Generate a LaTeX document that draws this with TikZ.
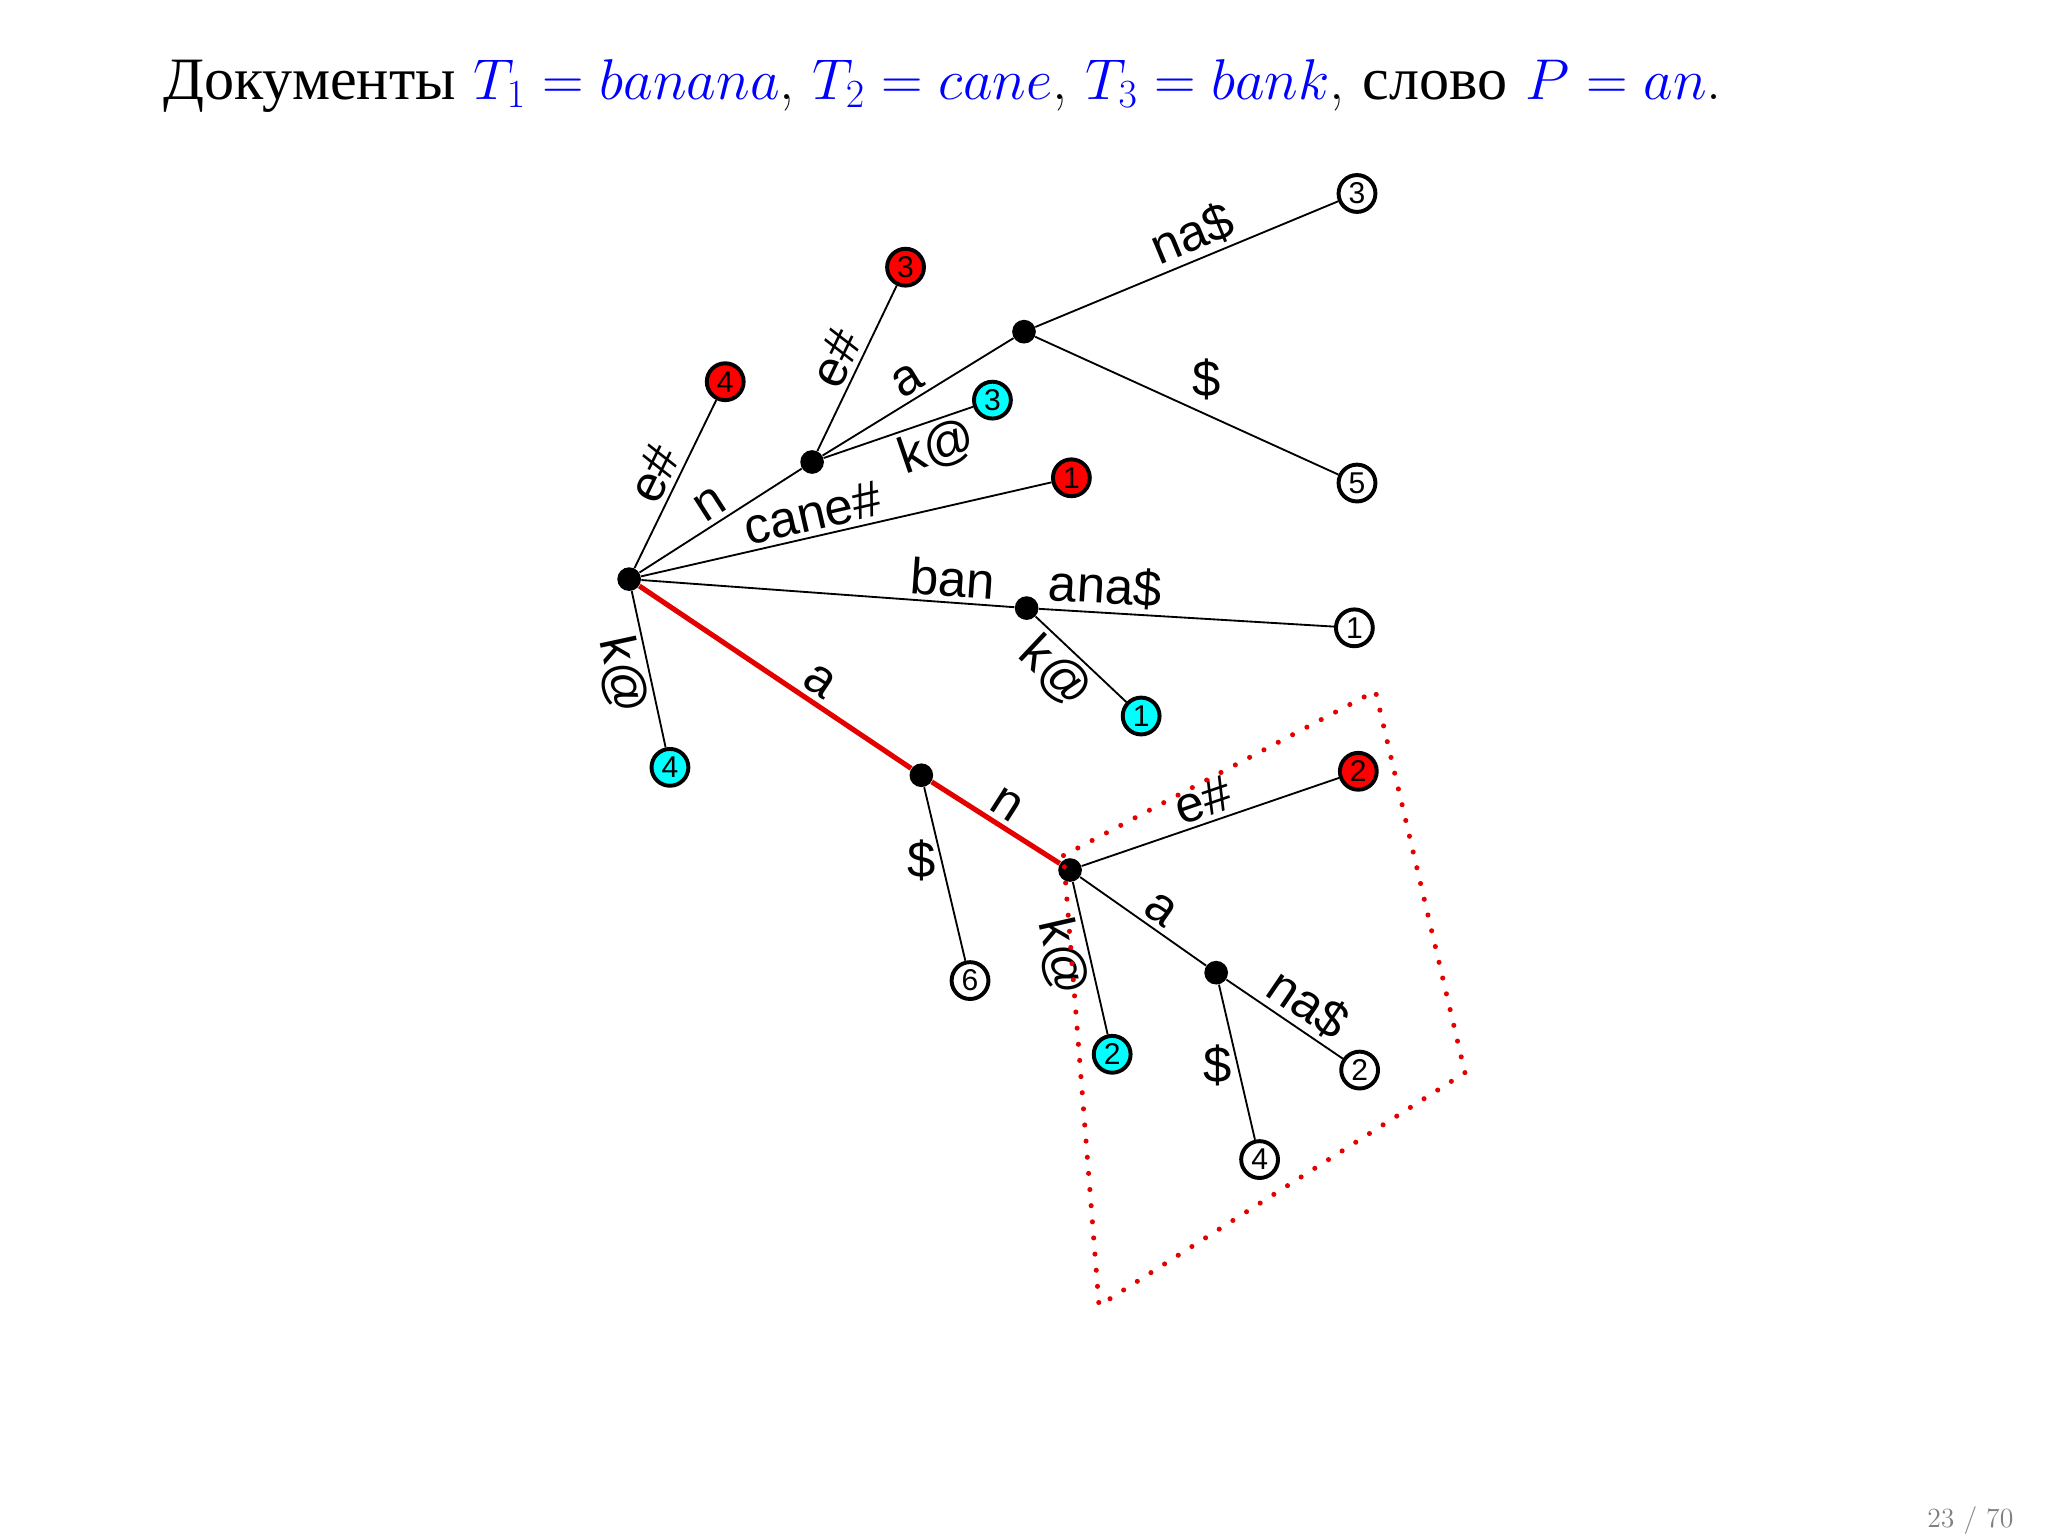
\documentclass[tikz,border=0pt]{standalone}
\usepackage{fontspec}
\setsansfont{Liberation Sans}
\newfontfamily\cyr{Liberation Serif}
\definecolor{cyanc}{RGB}{0,255,255}
\begin{document}
\begin{tikzpicture}[x=0.02cm,y=-0.02cm,
  edge/.style={line width=0.8pt},
  redge/.style={line width=2.2pt,red!90!black},
  inner/.style={circle,fill=black,inner sep=0pt,minimum size=0.36cm},
  leaf/.style={circle,draw=black,line width=1.7pt,inner sep=0pt,minimum size=0.56cm,font=\sffamily\fontsize{13}{13}\selectfont},
  lab/.style={font=\sffamily\fontsize{22}{22}\selectfont,sloped,inner sep=2pt},
  ulab/.style={font=\sffamily\fontsize{22}{22}\selectfont,inner sep=2pt}]
\useasboundingbox (0,0) rectangle (1556,1167);
\node[anchor=west,font=\fontsize{26}{30}\selectfont] (title) at (118,65) {{\cyr Документы} \textcolor{blue}{$T_1=banana$}, \textcolor{blue}{$T_2=cane$}, \textcolor{blue}{$T_3=bank$}, {\cyr слово} \textcolor{blue}{$P=an$}.};
\node[font=\fontsize{12}{12}\selectfont,text=gray] (pg) at (1497,1155) {23 / 70};
% inner nodes
\node[inner] (R) at (478,440) {};
\node[inner] (N) at (617,351) {};
\node[inner] (A) at (778,252) {};
\node[inner] (B) at (780,462) {};
\node[inner] (C) at (700,589) {};
\node[inner] (D) at (813,661) {};
\node[inner] (E) at (924,739) {};
% leaves
\node[leaf] (w3) at (1031,147) {3};
\node[leaf] (w5) at (1031,367) {5};
\node[leaf,fill=red] (r4) at (551,290) {4};
\node[leaf,fill=red] (r3) at (688,203) {3};
\node[leaf,fill=cyanc] (c3) at (754,304) {3};
\node[leaf,fill=red] (r1) at (814,363) {1};
\node[leaf] (w1) at (1029,477) {1};
\node[leaf,fill=cyanc] (c1) at (867,544) {1};
\node[leaf,fill=cyanc] (c4) at (509,583) {4};
\node[leaf] (w6) at (737,745) {6};
\node[leaf,fill=red] (r2) at (1032,586) {2};
\node[leaf,fill=cyanc] (c2) at (845,801) {2};
\node[leaf] (w2) at (1033,813) {2};
\node[leaf] (w4) at (957,881) {4};
% edges
\draw[edge] (R) -- node[lab,above] {e\#} (r4);
\draw[edge] (R) -- node[lab,above] {n} (N);
\draw[edge] (N) -- node[lab,above] {e\#} (r3);
\draw[edge] (N) -- node[lab,above] {a} (A);
\draw[edge] (N) -- node[lab,below,pos=0.7] {k@} (c3);
\draw[edge] (A) -- node[lab,above,pos=0.55] {na\$} (w3);
\draw[edge] (A) -- node[ulab,above right,pos=0.5] {\$} (w5);
\draw[edge] (R) -- node[lab,above,pos=0.43] {cane\#} (r1);
\draw[edge] (R) -- node[lab,above,pos=0.83] {ban} (B);
\draw[edge] (B) -- node[lab,above,pos=0.22] {ana\$} (w1);
\draw[edge] (B) -- node[lab,below,pos=0.42] {k@} (c1);
\draw[edge] (R) -- node[lab,below] {k@} (c4);
\draw[redge] (R) -- node[lab,above,text=black,pos=0.62] {a} (C);
\draw[redge] (C) -- node[lab,above,text=black] {n} (D);
\draw[edge] (C) -- node[ulab,left,pos=0.42] {\$} (w6);
\draw[edge] (D) -- node[lab,above,pos=0.5] {e\#} (r2);
\draw[edge] (D) -- node[lab,below,pos=0.45] {k@} (c2);
\draw[edge] (D) -- node[lab,above,pos=0.55] {a} (E);
\draw[edge] (E) -- node[lab,above,pos=0.58] {na\$} (w2);
\draw[edge] (E) -- node[ulab,left,pos=0.52] {\$} (w4);
% dotted region
\draw[red!90!black,line width=2.2pt,dash pattern=on 0pt off 7pt,line cap=round] (808,650) -- (1045,525) -- (1113,815) -- (835,992) -- cycle;
\end{tikzpicture}
\end{document}
